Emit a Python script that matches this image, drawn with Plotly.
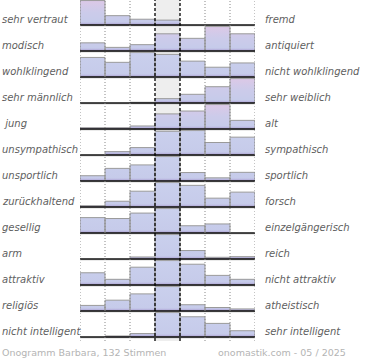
import plotly.graph_objects as go

left_labels = ["sehr vertraut", "modisch", "wohlklingend", "sehr männlich", "\u00a0jung",
               "unsympathisch", "unsportlich", "zurückhaltend", "gesellig", "arm",
               "attraktiv", "religiös", "nicht intelligent"]
right_labels = ["fremd", "antiquiert", "nicht wohlklingend", "sehr weiblich", "alt",
                "sympathisch", "sportlich", "forsch", "einzelgängerisch", "reich",
                "nicht attraktiv", "atheistisch", "sehr intelligent"]

# share of votes (%) per scale step, 7 steps from left to right pole
votes = [
    [55, 21, 13, 11, 0, 0, 0],
    [9, 4, 7, 19, 14, 27, 19],
    [16, 12, 20, 18.5, 13, 8, 11.5],
    [0, 0, 1.3, 8, 16, 30, 45],
    [1.8, 1.8, 4.2, 21, 25, 34, 12],
    [0, 3.8, 8.3, 26.6, 27.4, 14, 20],
    [6.7, 16, 20.4, 31, 10.7, 4, 11],
    [1.4, 6.2, 17, 26.3, 23.3, 9.5, 16],
    [17, 16, 22, 27, 8, 10, 0],
    [0, 0, 5.2, 62.7, 21.7, 4.4, 6],
    [12.7, 5.9, 18.5, 25.4, 21.6, 10, 5.9],
    [8, 15.5, 24.5, 35, 9, 5, 3],
    [0, 1.5, 5, 35.4, 29.3, 19.7, 9.1],
]
footer_left = "Onogramm Barbara, 132 Stimmen"
footer_right = "onomastik.com - 05 / 2025"

# style
pink_rows = {0, 1, 3, 4}
n_rows = len(votes)
n_cols = 7
bar_max = 0.94

fig = go.Figure()

shapes = []
# highlighted centre column
shapes.append(dict(type="rect", xref="x", yref="y", x0=3, x1=4, y0=-4/26, y1=337/26,
                   fillcolor="#eeeeee", line=dict(width=0), layer="below"))

for k, row in enumerate(votes):
    base = n_rows - 1 - k
    m = max(row)
    xs, ys = [], []
    for j, v in enumerate(row):
        if v <= 0:
            continue
        h = v / m * bar_max
        xs += [j, j, j + 1, j + 1, j, None]
        ys += [base, base + h, base + h, base, base, None]
    if k in pink_rows:
        cs = [[0, "#9a88c4"], [0.07, "#bebde3"], [0.12, "#c6cbea"], [0.5, "#cccbea"], [1, "#dec8e6"]]
    else:
        cs = [[0, "#9a88c4"], [0.07, "#bebde3"], [0.12, "#c6cbea"], [1, "#cad0ed"]]
    fig.add_trace(go.Scatter(
        x=xs, y=ys, mode="lines", fill="toself",
        fillgradient=dict(type="vertical", colorscale=cs, start=base, stop=base + 1),
        line=dict(color="#9a9a9a", width=1), hoverinfo="skip", showlegend=False))
    # baseline
    shapes.append(dict(type="line", xref="x", yref="y", x0=0, x1=n_cols, y0=base - 0.03, y1=base - 0.03,
                       line=dict(color="#b0b0b0", width=1)))
    shapes.append(dict(type="line", xref="x", yref="y", x0=0, x1=n_cols, y0=base, y1=base,
                       line=dict(color="#111111", width=1.5)))

for j in [0, 1, 2, 5, 6, 7]:
    shapes.append(dict(type="line", xref="x", yref="y", x0=j, x1=j, y0=-4/26, y1=337/26,
                       line=dict(color="#888888", width=1, dash="1px,2px")))
for j in [3, 4]:
    shapes.append(dict(type="line", xref="x", yref="y", x0=j, x1=j, y0=-4/26, y1=337/26,
                       line=dict(color="#000000", width=1.3, dash="3px,2px")))

annotations = []
lab_font = dict(family="DejaVu Sans", size=10, color="#606060")
for k in range(n_rows):
    base = n_rows - 1 - k
    annotations.append(dict(x=0, xref="paper", y=base + 0.2, yref="y", text="<i>%s</i>" % left_labels[k],
                            showarrow=False, xanchor="left", yanchor="middle", font=lab_font))
    annotations.append(dict(x=263/370, xref="paper", y=base + 0.2, yref="y", text="<i>%s</i>" % right_labels[k],
                            showarrow=False, xanchor="left", yanchor="middle", font=lab_font))
foot_font = dict(family="DejaVu Sans", size=9.5, color="#b4b4b4")
annotations.append(dict(x=0, xref="paper", y=8/360, yref="paper", text=footer_left, showarrow=False,
                        xanchor="left", yanchor="middle", font=foot_font))
annotations.append(dict(x=348/370, xref="paper", y=8/360, yref="paper", text=footer_right, showarrow=False,
                        xanchor="right", yanchor="middle", font=foot_font))

fig.update_layout(
    width=370, height=360, margin=dict(l=0, r=0, t=0, b=0),
    paper_bgcolor="white", plot_bgcolor="rgba(0,0,0,0)",
    xaxis=dict(domain=[80/370, 255/370], range=[0, n_cols], visible=False, fixedrange=True),
    yaxis=dict(domain=[19/360, 1], range=[-4/26, 337/26], visible=False, fixedrange=True),
    shapes=shapes, annotations=annotations, showlegend=False,
)

fig.write_html("out.html", config={"displayModeBar": False},
               post_script="document.body.style.margin='0px';document.body.style.padding='0px';")
